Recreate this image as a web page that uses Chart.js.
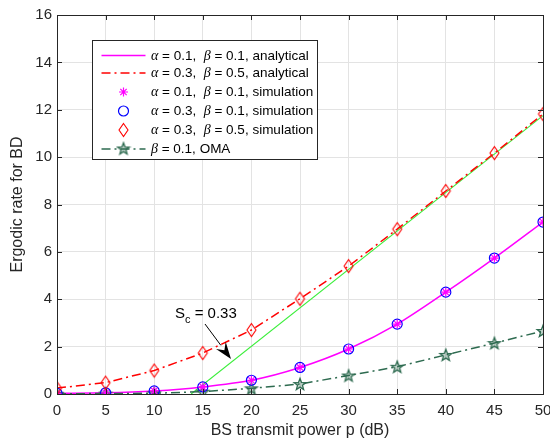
<!DOCTYPE html>
<html>
<head>
<meta charset="utf-8">
<script src="https://cdn.jsdelivr.net/npm/chart.js@4.4.1/dist/chart.umd.min.js"></script>
<style>
  body { margin: 0; background: #fff; }
  #wrap { width: 550px; height: 441px; }
</style>
</head>
<body>
<div id="wrap"><canvas id="rateChart" width="550" height="441"></canvas></div>
<script>
// data
const powerDb = [0, 5, 10, 15, 20, 25, 30, 35, 40, 45, 50];
const rateA01B01 = [0.03, 0.05, 0.13, 0.3, 0.58, 1.12, 1.9, 2.95, 4.3, 5.74, 7.26];
const rateA03B05 = [0.25, 0.48, 0.99, 1.73, 2.7, 4.02, 5.4, 6.96, 8.57, 10.17, 11.82];
const rateOMA = [0.01, 0.02, 0.03, 0.1, 0.24, 0.42, 0.78, 1.15, 1.65, 2.15, 2.66];
// high-SNR slope line (Sc = 0.33)
const slopeX = [13.8, 50];
const slopeY = [0, 11.75];
const xTicks = { min: 0, max: 50, step: 5 };
const yTicks = { min: 0, max: 16, step: 2 };

const FONT = "'Liberation Sans', Arial, sans-serif";
const INK = "#262626";
const OMA_GREEN = "#2e6b50";

function pts(xs, ys) {
  return xs.map((x, i) => ({ x: x, y: ys[i] }));
}

// marker images
function makeDiamond() {
  const c = document.createElement("canvas");
  c.width = 13; c.height = 16;
  const g = c.getContext("2d");
  g.strokeStyle = "#ff0000";
  g.lineWidth = 1.1;
  g.beginPath();
  g.moveTo(6.5, 1.5); g.lineTo(11, 8); g.lineTo(6.5, 14.5); g.lineTo(2, 8);
  g.closePath();
  g.stroke();
  return c;
}

function makePentagram() {
  const c = document.createElement("canvas");
  c.width = 16; c.height = 16;
  const g = c.getContext("2d");
  g.strokeStyle = OMA_GREEN;
  g.fillStyle = "rgba(46,107,80,0.3)";
  g.lineWidth = 1.3;
  g.beginPath();
  for (let i = 0; i < 10; i++) {
    const r = i % 2 === 0 ? 6.2 : 2.6;
    const a = -Math.PI / 2 + i * Math.PI / 5;
    const px = 8 + r * Math.cos(a), py = 8.5 + r * Math.sin(a);
    if (i === 0) g.moveTo(px, py); else g.lineTo(px, py);
  }
  g.closePath();
  g.fill();
  g.stroke();
  return c;
}

const diamondImg = makeDiamond();
const starImg = makePentagram();

const dashDot = [9, 4, 2, 4];

// legend rows
const legendRows = [
  { a: "0.1", b: "0.1", tail: "analytical", line: "#ff00ff", dash: [] },
  { a: "0.3", b: "0.5", tail: "analytical", line: "#ff0000", dash: dashDot },
  { a: "0.1", b: "0.1", tail: "simulation", marker: "asterisk" },
  { a: "0.3", b: "0.1", tail: "simulation", marker: "circle" },
  { a: "0.3", b: "0.5", tail: "simulation", marker: "diamond" },
  { b: "0.1", tail: "OMA", line: OMA_GREEN, dash: dashDot, marker: "pentagram" },
];
const legendRowY = [55.5, 73, 92, 111, 130, 149];

function drawAsterisk(ctx, x, y, r) {
  ctx.save();
  ctx.strokeStyle = "#ff00ff";
  ctx.lineWidth = 1.2;
  ctx.beginPath();
  for (let i = 0; i < 4; i++) {
    const a = i * Math.PI / 4;
    ctx.moveTo(x - r * Math.cos(a), y - r * Math.sin(a));
    ctx.lineTo(x + r * Math.cos(a), y + r * Math.sin(a));
  }
  ctx.stroke();
  ctx.restore();
}

const overlayPlugin = {
  id: "overlay",
  afterDraw(chart) {
    const ctx = chart.ctx;
    const area = chart.chartArea;
    const xs = chart.scales.x, ys = chart.scales.y;
    ctx.save();

    // axes box + inward ticks
    ctx.strokeStyle = INK;
    ctx.lineWidth = 1;
    ctx.strokeRect(Math.round(area.left) + 0.5, Math.round(area.top) + 0.5,
      Math.round(area.right - area.left), Math.round(area.bottom - area.top));
    ctx.beginPath();
    for (let v = xTicks.min; v <= xTicks.max; v += xTicks.step) {
      const px = Math.round(xs.getPixelForValue(v)) + 0.5;
      ctx.moveTo(px, area.bottom); ctx.lineTo(px, area.bottom - 5);
      ctx.moveTo(px, area.top); ctx.lineTo(px, area.top + 5);
    }
    for (let v = yTicks.min; v <= yTicks.max; v += yTicks.step) {
      const py = Math.round(ys.getPixelForValue(v)) + 0.5;
      ctx.moveTo(area.left, py); ctx.lineTo(area.left + 5, py);
      ctx.moveTo(area.right, py); ctx.lineTo(area.right - 5, py);
    }
    ctx.stroke();

    // axis titles
    ctx.fillStyle = INK;
    ctx.font = "16px " + FONT;
    ctx.textAlign = "center";
    ctx.textBaseline = "middle";
    ctx.fillText("BS transmit power p (dB)", (area.left + area.right) / 2, 431);
    ctx.save();
    ctx.translate(18, (area.top + area.bottom) / 2);
    ctx.rotate(-Math.PI / 2);
    ctx.fillText("Ergodic rate for BD", 0, 0);
    ctx.restore();

    // annotation Sc = 0.33 with arrow
    ctx.textAlign = "left";
    ctx.textBaseline = "alphabetic";
    ctx.fillStyle = "#000";
    ctx.font = "15px " + FONT;
    let tx = 175;
    ctx.fillText("S", tx, 318);
    tx += ctx.measureText("S").width;
    ctx.font = "11px " + FONT;
    ctx.fillText("c", tx, 323);
    tx += ctx.measureText("c").width;
    ctx.font = "15px " + FONT;
    ctx.fillText(" = 0.33", tx, 318);

    const x0 = 205, y0 = 324, x1 = 231, y1 = 359;
    const ang = Math.atan2(y1 - y0, x1 - x0);
    const hl = 17, hw = 6;
    const bx = x1 - hl * Math.cos(ang), by = y1 - hl * Math.sin(ang);
    ctx.strokeStyle = "#000";
    ctx.lineWidth = 1;
    ctx.beginPath();
    ctx.moveTo(x0, y0); ctx.lineTo(bx, by);
    ctx.stroke();
    ctx.fillStyle = "#000";
    ctx.beginPath();
    ctx.moveTo(x1, y1);
    ctx.lineTo(bx + hw * Math.sin(ang), by - hw * Math.cos(ang));
    ctx.lineTo(bx + 0.35 * hl * Math.cos(ang), by + 0.35 * hl * Math.sin(ang));
    ctx.lineTo(bx - hw * Math.sin(ang), by + hw * Math.cos(ang));
    ctx.closePath();
    ctx.fill();

    // legend
    const lx = 92.5, ly = 40.5, lw = 225, lh = 119;
    ctx.fillStyle = "#fff";
    ctx.fillRect(lx, ly, lw, lh);
    ctx.strokeStyle = "#262626";
    ctx.lineWidth = 1;
    ctx.strokeRect(lx, ly, lw, lh);

    legendRows.forEach((row, i) => {
      const y = legendRowY[i];
      if (row.line) {
        ctx.save();
        ctx.strokeStyle = row.line;
        ctx.lineWidth = 1.5;
        ctx.setLineDash(row.dash);
        ctx.beginPath();
        ctx.moveTo(101.5, y); ctx.lineTo(145.5, y);
        ctx.stroke();
        ctx.restore();
      }
      const mx = 123.5;
      if (row.marker === "asterisk") drawAsterisk(ctx, mx, y, 4.5);
      if (row.marker === "circle") {
        ctx.save();
        ctx.strokeStyle = "#0000ff";
        ctx.lineWidth = 1.2;
        ctx.beginPath();
        ctx.arc(mx, y, 5, 0, Math.PI * 2);
        ctx.stroke();
        ctx.restore();
      }
      if (row.marker === "diamond") ctx.drawImage(diamondImg, mx - 6.5, y - 8);
      if (row.marker === "pentagram") ctx.drawImage(starImg, mx - 8, y - 8.5);

      let x = 151;
      ctx.fillStyle = "#000";
      ctx.textBaseline = "middle";
      const seg = (txt, greek) => {
        ctx.font = greek ? "italic 14px 'Liberation Serif', serif" : "13.5px " + FONT;
        ctx.fillText(txt, x, y + 0.5);
        x += ctx.measureText(txt).width;
      };
      if (row.a) { seg("\u03b1", true); seg(" = " + row.a + ",  ", false); }
      seg("\u03b2", true);
      seg(" = " + row.b + ", " + row.tail, false);
    });

    ctx.restore();
  },
};

const ctx = document.getElementById("rateChart");
new Chart(ctx, {
  type: "line",
  data: {
    datasets: [
      {
        label: "alpha=0.3, beta=0.5, simulation",
        data: pts(powerDb, rateA03B05),
        showLine: false,
        pointStyle: diamondImg,
      },
      {
        label: "alpha=0.1, beta=0.1, simulation",
        data: pts(powerDb, rateA01B01),
        showLine: false,
        pointStyle: "star",
        pointRadius: 4.5,
        pointBorderColor: "#ff00ff",
        pointBorderWidth: 1.2,
      },
      {
        label: "alpha=0.3, beta=0.1, simulation",
        data: pts(powerDb, rateA01B01),
        showLine: false,
        pointStyle: "circle",
        pointRadius: 5,
        pointBorderColor: "#0000ff",
        pointBackgroundColor: "rgba(0,0,0,0)",
        pointBorderWidth: 1.2,
      },
      {
        label: "beta=0.1, OMA",
        data: pts(powerDb, rateOMA),
        borderColor: OMA_GREEN,
        borderWidth: 1.5,
        borderDash: dashDot,
        pointStyle: starImg,
      },
      {
        label: "alpha=0.3, beta=0.5, analytical",
        data: pts(powerDb, rateA03B05),
        borderColor: "#ff0000",
        borderWidth: 1.5,
        borderDash: dashDot,
        pointRadius: 0,
      },
      {
        label: "alpha=0.1, beta=0.1, analytical",
        data: pts(powerDb, rateA01B01),
        borderColor: "#ff00ff",
        borderWidth: 1.5,
        pointRadius: 0,
        tension: 0.3,
      },
      {
        label: "slope",
        data: pts(slopeX, slopeY),
        borderColor: "#3aee3a",
        borderWidth: 1.1,
        pointRadius: 0,
      },
    ],
  },
  options: {
    responsive: false,
    animation: false,
    layout: { padding: { top: 15, right: 7, left: 0, bottom: 0 } },
    plugins: { legend: { display: false }, tooltip: { enabled: false } },
    scales: {
      x: {
        type: "linear",
        min: xTicks.min,
        max: xTicks.max,
        ticks: { stepSize: xTicks.step, color: INK, font: { family: FONT, size: 15 }, padding: 8, maxRotation: 0 },
        grid: { color: "#e3e3e3", drawTicks: false },
        border: { display: false },
        afterFit(scale) {
          scale.height = 47;
          scale.paddingLeft = 0;
          scale.paddingRight = 0;
        },
      },
      y: {
        min: yTicks.min,
        max: yTicks.max,
        ticks: { stepSize: yTicks.step, color: INK, font: { family: FONT, size: 15 }, padding: 5 },
        grid: { color: "#e3e3e3", drawTicks: false },
        border: { display: false },
        afterFit(scale) {
          scale.width = 57;
          scale.paddingTop = 0;
          scale.paddingBottom = 0;
        },
      },
    },
  },
  plugins: [overlayPlugin],
});
</script>
</body>
</html>
